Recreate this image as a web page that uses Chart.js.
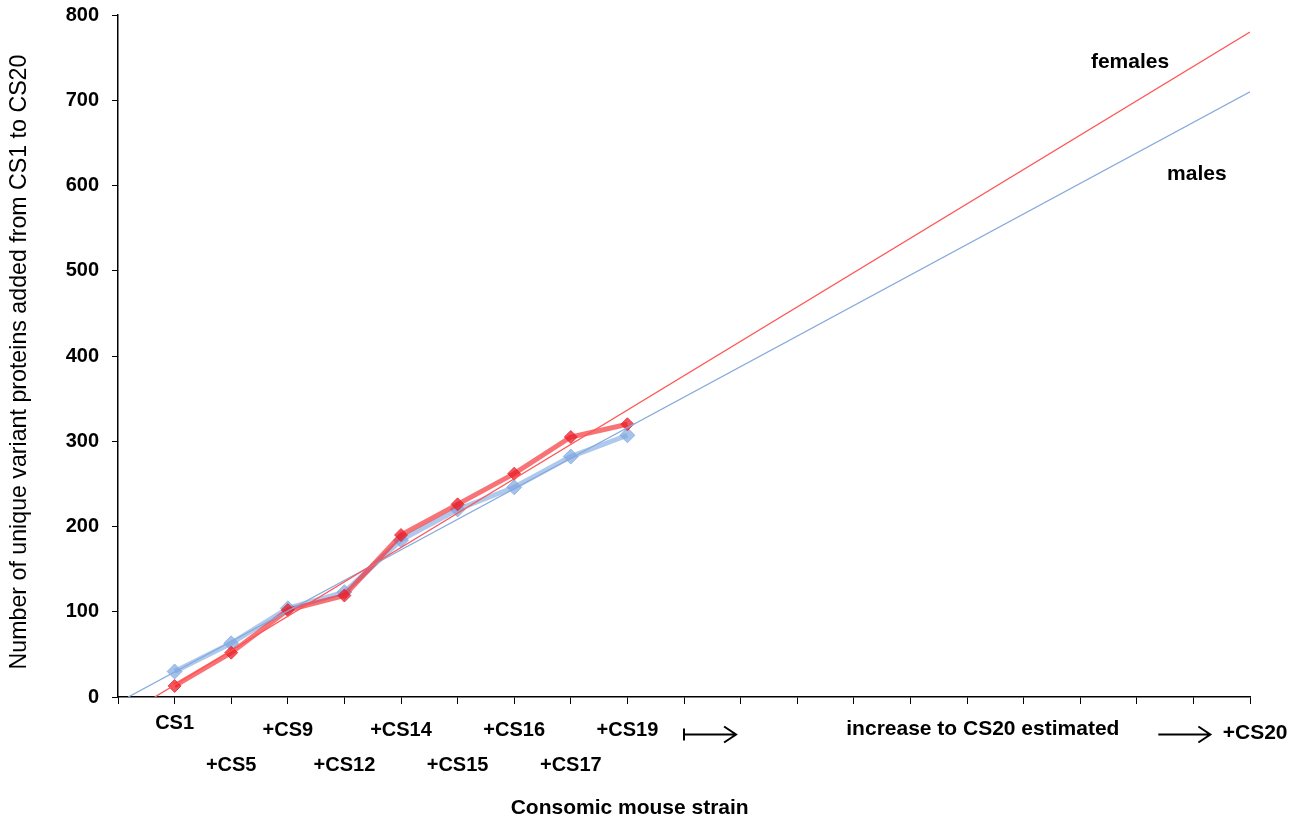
<!DOCTYPE html>
<html>
<head>
<meta charset="utf-8">
<script src="https://cdn.jsdelivr.net/npm/chart.js@4.4.1/dist/chart.umd.min.js"></script>
<style>
  html, body { margin: 0; padding: 0; background: #fff; }
  #wrap { width: 1306px; height: 821px; }
</style>
</head>
<body>
<div id="wrap"><canvas id="c" width="1306" height="821"></canvas></div>
<script>
// ---- data ----
const strains = ['CS1', '+CS5', '+CS9', '+CS12', '+CS14', '+CS15', '+CS16', '+CS17', '+CS19'];
const strainPos = [1, 2, 3, 4, 5, 6, 7, 8, 9];
const males = [30, 63, 104, 123, 184, 220, 246, 282, 307];
const females = [13, 52, 102, 119, 190, 226, 262, 305, 320];
const femaleTrendX = [0.65, 20];
const femaleTrendY = [0, 780];
const maleTrendX = [0.18, 20];
const maleTrendY = [0, 710];
const yTicks = [0, 100, 200, 300, 400, 500, 600, 700, 800];
const noteLabels = ['increase to CS20 estimated', '+CS20'];
const notePos = [15.28, 20.09];
const arrowFrom = [10.0, 18.38];
const arrowTo = [10.92, 19.3];
const arrowBar = [true, false];
const seriesNames = ['females', 'males'];
const seriesNameX = [17.88, 19.06];
const seriesNameY = [745, 613];
const xTitle = 'Consomic mouse strain';
const yTitle = 'Number of unique variant proteins added from CS1 to CS20';

const toPts = (xs, ys) => xs.map((v, i) => ({ x: v, y: ys[i] }));

const BOLD = '"Liberation Sans", Arial, Helvetica, sans-serif';

const annot = {
  id: 'annot',
  afterDraw(chart) {
    const { ctx, scales: { x, y } } = chart;
    const base = chart.chartArea.bottom;
    ctx.save();
    ctx.fillStyle = '#000';
    ctx.strokeStyle = '#000';
    ctx.font = 'bold 20px ' + BOLD;
    ctx.textAlign = 'center';
    ctx.textBaseline = 'middle';
    strains.forEach((s, i) => {
      const px = x.getPixelForValue(strainPos[i]);
      const py = base + (i === 0 ? 26 : (i % 2 === 0 ? 33 : 68));
      ctx.fillText(s, px, py);
    });
    ctx.font = 'bold 21px ' + BOLD;
    noteLabels.forEach((s, i) => {
      ctx.fillText(s, x.getPixelForValue(notePos[i]), base + (i === 0 ? 32 : 36));
    });
    // arrows
    ctx.lineWidth = 2;
    arrowFrom.forEach((a, i) => {
      const x0 = x.getPixelForValue(a), x1 = x.getPixelForValue(arrowTo[i]);
      const yy = base + 37.5;
      ctx.beginPath();
      ctx.moveTo(x0, yy); ctx.lineTo(x1, yy);
      ctx.moveTo(x1 - 12, yy - 8); ctx.lineTo(x1, yy); ctx.lineTo(x1 - 12, yy + 8);
      if (arrowBar[i]) { ctx.moveTo(x0, yy - 6); ctx.lineTo(x0, yy + 6); }
      ctx.stroke();
    });
    // series labels
    seriesNames.forEach((s, i) => {
      ctx.fillText(s, x.getPixelForValue(seriesNameX[i]), y.getPixelForValue(seriesNameY[i]));
    });
    // x title
    ctx.fillText(xTitle, x.getPixelForValue(9.04), base + 111);
    // y title
    ctx.save();
    ctx.translate(20, (chart.chartArea.top + base) / 2 + 6);
    ctx.rotate(-Math.PI / 2);
    ctx.font = '23.2px ' + BOLD;
    ctx.fillText(yTitle, 0, 0);
    ctx.restore();
    ctx.restore();
  }
};

new Chart(document.getElementById('c'), {
  type: 'scatter',
  data: {
    datasets: [
      {
        label: 'females trend', data: toPts(femaleTrendX, femaleTrendY), showLine: true,
        borderColor: 'rgb(255,85,85)', borderWidth: 1.3, pointRadius: 0, order: 0
      },
      {
        label: 'males trend', data: toPts(maleTrendX, maleTrendY), showLine: true,
        borderColor: 'rgb(135,170,220)', borderWidth: 1.3, pointRadius: 0, order: 0
      },
      {
        label: 'females', data: toPts(strainPos, females), showLine: true,
        borderColor: 'rgba(245,40,45,0.65)', borderWidth: 5,
        pointStyle: 'rectRot', pointRadius: 6.5, pointBackgroundColor: 'rgba(235,30,40,0.75)',
        pointBorderColor: 'rgba(235,30,40,0.75)', pointBorderWidth: 1, order: 1
      },
      {
        label: 'males', data: toPts(strainPos, males), showLine: true,
        borderColor: 'rgba(120,165,225,0.6)', borderWidth: 5,
        pointStyle: 'rectRot', pointRadius: 7.5, pointBackgroundColor: 'rgba(125,168,225,0.7)',
        pointBorderColor: 'rgba(125,168,225,0.7)', pointBorderWidth: 1, order: 2
      }
    ]
  },
  options: {
    responsive: false,
    animation: false,
    devicePixelRatio: 1,
    layout: { padding: { left: 0, right: 56, top: 15, bottom: 0 } },
    plugins: { legend: { display: false }, tooltip: { enabled: false } },
    scales: {
      x: {
        type: 'linear', min: 0, max: 20,
        ticks: { display: false, stepSize: 1 },
        grid: { display: true, drawOnChartArea: false, drawTicks: true, tickLength: 7, color: '#000', lineWidth: 1 },
        border: { display: true, color: '#000', width: 1.5 },
        afterFit: (s) => { s.height = 124; s.paddingLeft = 0; s.paddingRight = 0; }
      },
      y: {
        min: 0, max: 800,
        afterBuildTicks: (s) => { s.ticks = yTicks.map(v => ({ value: v })); },
        ticks: { color: '#000', padding: 13, font: { family: BOLD, size: 20, weight: 'bold' } },
        grid: { display: true, drawOnChartArea: false, drawTicks: true, tickLength: 6, color: '#000', lineWidth: 1 },
        border: { display: true, color: '#000', width: 1.5 },
        title: { display: false },
        afterFit: (s) => { s.width = 118; s.paddingTop = 0; s.paddingBottom = 0; }
      }
    }
  },
  plugins: [annot]
});
</script>
</body>
</html>
